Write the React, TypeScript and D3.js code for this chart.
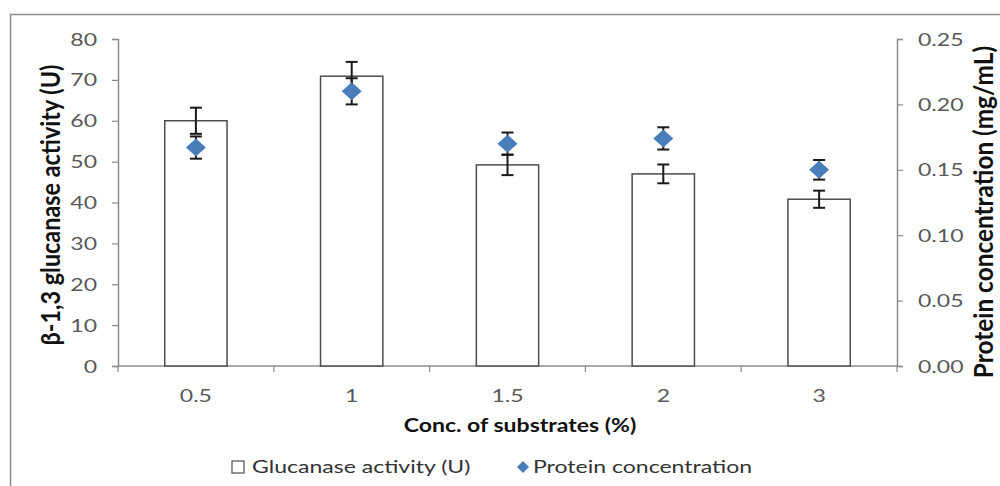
import React, { useEffect, useRef } from 'react';
import * as d3 from 'd3';

const categories = ['0.5', '1', '1.5', '2', '3'];
const glucanase = [60, 70.9, 49.2, 47, 40.8];
const glucanaseErr = [3.2, 3.5, 2.5, 2.3, 2.1];
const protein = [0.167, 0.21, 0.17, 0.174, 0.15];
const proteinErr = [0.0085, 0.01, 0.0085, 0.0085, 0.0075];
const leftTicks = [0, 10, 20, 30, 40, 50, 60, 70, 80];
const rightTicks = [0, 0.05, 0.1, 0.15, 0.2, 0.25];

const W = 1000;
const H = 486;
const FONT = 'Lato, "DejaVu Sans", sans-serif';
// the original picture is stretched sideways, so glyphs are widened
const SX = 1.28;
const SR = 1.1; // same for rotated titles, a bit lighter

type G = d3.Selection<SVGGElement, unknown, null, undefined>;

function label(g: G, x: number, y: number, str: string, size: number, anchor = 'start', fill = '#595959', bold = false) {
  g.append('text')
    .attr('transform', `translate(${x},${y}) scale(${SX},1)`)
    .attr('text-anchor', anchor)
    .attr('font-family', FONT)
    .attr('font-size', size)
    .attr('font-weight', bold ? 'bold' : 'normal')
    .attr('fill', fill)
    .text(str);
}

export default function App() {
  const svgRef = useRef<SVGSVGElement | null>(null);

  useEffect(() => {
    if (!svgRef.current) return;
    const svg = d3.select(svgRef.current);
    svg.selectAll('*').remove();
    const root = svg.append('g') as G;

    const plot = { left: 118, right: 897, top: 39, bottom: 366 };

    // frame
    root.append('path')
      .attr('d', `M10.5,${H} L10.5,14.5 L${W},14.5`)
      .attr('fill', 'none')
      .attr('stroke', '#8c8c8c')
      .attr('stroke-width', 1.5);

    const x = d3.scaleBand<string>()
      .domain(categories)
      .range([plot.left, plot.right])
      .paddingInner(0.6)
      .paddingOuter(0.3);
    const band = d3.scaleBand<string>().domain(categories).range([plot.left, plot.right]);

    const yL = d3.scaleLinear().domain([0, 80]).range([plot.bottom, plot.top]);
    const yR = d3.scaleLinear().domain([0, 0.25]).range([plot.bottom, plot.top]);

    const axisColor = '#8c8c8c';
    const tickSize = 18;

    // left axis
    const gl = root.append('g').attr('transform', `translate(${plot.left},0)`)
      .call(d3.axisLeft(yL).tickValues(leftTicks).tickSize(6).tickFormat(() => ''));
    // right axis
    const gr = root.append('g').attr('transform', `translate(${plot.right},0)`)
      .call(d3.axisRight(yR).tickValues(rightTicks).tickSize(6).tickFormat(() => ''));
    [gl, gr].forEach((g) => {
      g.select('.domain').attr('stroke', axisColor).attr('stroke-width', 1.5);
      g.selectAll('.tick line').attr('stroke', axisColor).attr('stroke-width', 1.2);
    });
    leftTicks.forEach((t) => label(root, 97, yL(t) + 6.5, d3.format('d')(t), tickSize, 'end'));
    rightTicks.forEach((t) => label(root, 918, yR(t) + 6.5, d3.format('.2f')(t), tickSize, 'start'));

    // bottom axis (ticks on category boundaries)
    const gb = root.append('g').attr('transform', `translate(0,${plot.bottom})`);
    gb.append('line')
      .attr('x1', plot.left).attr('x2', plot.right)
      .attr('stroke', axisColor).attr('stroke-width', 1.5);
    const bounds = categories.map((c) => band(c) as number).concat([plot.right]);
    gb.selectAll('line.b').data(bounds).enter().append('line')
      .attr('class', 'b')
      .attr('x1', (d) => d).attr('x2', (d) => d)
      .attr('y1', 0).attr('y2', 6)
      .attr('stroke', axisColor).attr('stroke-width', 1.2);
    categories.forEach((c) =>
      label(root, (band(c) as number) + band.bandwidth() / 2, 402, c, tickSize, 'middle'));

    // bars
    root.append('g').selectAll('rect').data(glucanase).enter().append('rect')
      .attr('x', (_, i) => x(categories[i]) as number)
      .attr('width', x.bandwidth())
      .attr('y', (d) => yL(d))
      .attr('height', (d) => plot.bottom - yL(d))
      .attr('fill', 'white')
      .attr('stroke', '#4d4d4d')
      .attr('stroke-width', 1.5);

    const cx = (i: number) => (band(categories[i]) as number) + band.bandwidth() / 2;
    const errBar = (g: G, xc: number, y1: number, y2: number) => {
      g.append('line').attr('x1', xc).attr('x2', xc).attr('y1', y1).attr('y2', y2);
      g.append('line').attr('x1', xc - 6).attr('x2', xc + 6).attr('y1', y1).attr('y2', y1);
      g.append('line').attr('x1', xc - 6).attr('x2', xc + 6).attr('y1', y2).attr('y2', y2);
    };

    // glucanase error bars
    const ge = root.append('g').attr('stroke', '#1a1a1a').attr('stroke-width', 2) as G;
    glucanase.forEach((v, i) => errBar(ge, cx(i), yL(v + glucanaseErr[i]), yL(v - glucanaseErr[i])));

    // protein error bars
    const pe = root.append('g').attr('stroke', '#1a1a1a').attr('stroke-width', 2) as G;
    protein.forEach((v, i) => errBar(pe, cx(i), yR(v + proteinErr[i]), yR(v - proteinErr[i])));

    // protein diamonds
    root.append('g').selectAll('path').data(protein).enter().append('path')
      .attr('d', 'M0,-9 L10,0 L0,9 L-10,0 Z')
      .attr('transform', (d, i) => `translate(${cx(i)},${yR(d)})`)
      .attr('fill', '#4a7ebb');

    // axis titles
    root.append('text')
      .attr('transform', `translate(60,205) rotate(-90) scale(1,${SR})`)
      .attr('text-anchor', 'middle')
      .attr('font-family', FONT).attr('font-weight', 'bold').attr('font-size', 23.4)
      .attr('fill', '#111')
      .text('β-1,3 glucanase activity (U)');
    root.append('text')
      .attr('transform', `translate(993,212) rotate(-90) scale(1,${SR})`)
      .attr('text-anchor', 'middle')
      .attr('font-family', FONT).attr('font-weight', 'bold').attr('font-size', 24.4)
      .attr('fill', '#111')
      .text('Protein concentration (mg/mL)');
    label(root, 520, 432, 'Conc. of substrates (%)', 18, 'middle', '#111', true);

    // legend
    root.append('rect').attr('x', 232).attr('y', 461).attr('width', 12).attr('height', 12)
      .attr('fill', 'white').attr('stroke', '#4d4d4d').attr('stroke-width', 1.2);
    label(root, 252, 473, 'Glucanase activity (U)', 18, 'start', '#333');
    root.append('path').attr('d', 'M0,-6 L6,0 L0,6 L-6,0 Z')
      .attr('transform', 'translate(523,467)').attr('fill', '#4a7ebb');
    label(root, 533, 473, 'Protein concentration', 18, 'start', '#333');
  }, []);

  return (
    <svg
      ref={svgRef}
      width={W}
      height={H}
      style={{ position: 'absolute', left: 0, top: 0, background: 'white' }}
    />
  );
}
